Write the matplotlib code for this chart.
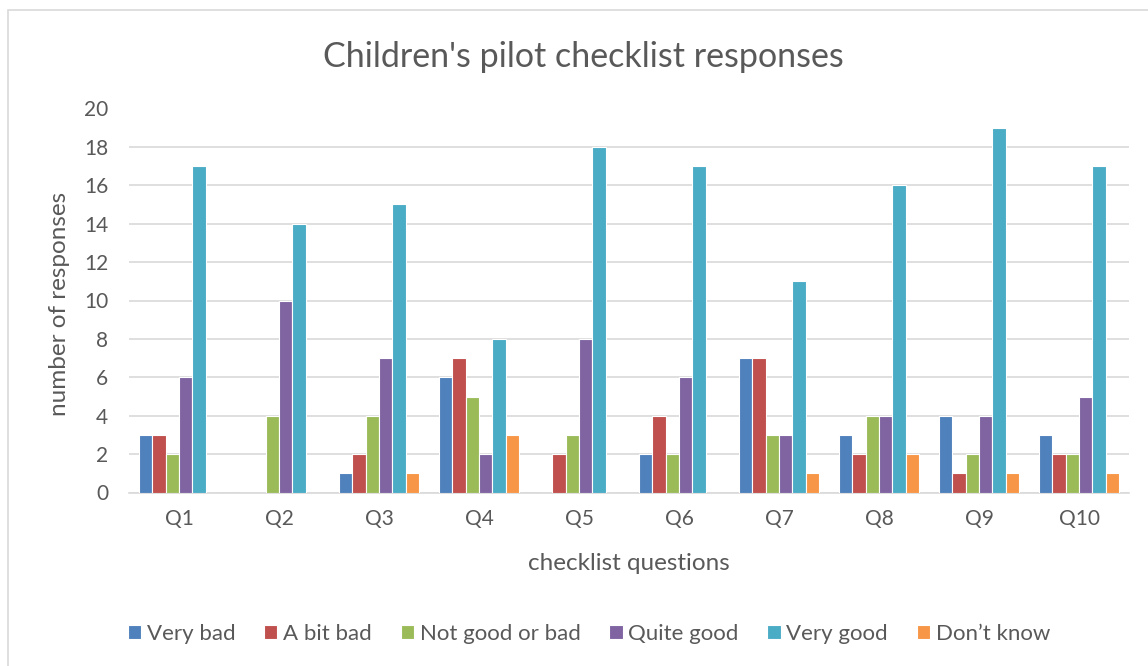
import numpy as np
import matplotlib
matplotlib.use('Agg')
import matplotlib.pyplot as plt
from matplotlib.patches import Rectangle

# 데이터
questions = ['Q1', 'Q2', 'Q3', 'Q4', 'Q5', 'Q6', 'Q7', 'Q8', 'Q9', 'Q10']
series_names = ['Very bad', 'A bit bad', 'Not good or bad', 'Quite good', 'Very good', 'Don\u2019t know']
very_bad = [3, 0, 1, 6, 0, 2, 7, 3, 4, 3]
a_bit_bad = [3, 0, 2, 7, 2, 4, 7, 2, 1, 2]
not_good_or_bad = [2, 4, 4, 5, 3, 2, 3, 4, 2, 2]
quite_good = [6, 10, 7, 2, 8, 6, 3, 4, 4, 5]
very_good = [17, 14, 15, 8, 18, 17, 11, 16, 19, 17]
dont_know = [0, 0, 1, 3, 0, 0, 1, 2, 1, 1]
y_ticks = [0, 2, 4, 6, 8, 10, 12, 14, 16, 18, 20]

colors = ['#4F81BD', '#C0504D', '#9BBB59', '#8064A2', '#4BACC6', '#F79646']
text_color = '#595959'

plt.rcParams['font.family'] = ['Lato', 'DejaVu Sans']

fig = plt.figure(figsize=(11.48, 6.66), dpi=100)
# 차트 테두리 (왼쪽/위쪽만 보임)
fig.patches.append(Rectangle((8 / 1148, -0.1), 1.2, (666 - 10) / 666 + 0.1,
                             transform=fig.transFigure, fill=False,
                             edgecolor='#D9D9D9', linewidth=1.2))

ax = fig.add_axes([129 / 1148, (666 - 492.5) / 666, 1000 / 1148, 384 / 666])

x = np.arange(len(questions))
all_series = [very_bad, a_bit_bad, not_good_or_bad, quite_good, very_good, dont_know]
slot = 0.133
for i, (name, vals) in enumerate(zip(series_names, all_series)):
    offs = (i - 2.5) * slot
    ax.bar(x + offs, vals, width=slot, color=colors[i], edgecolor='white',
           linewidth=0.8, label=name, zorder=3)

ax.set_xlim(-0.5, len(questions) - 0.5)
ax.set_ylim(0, 20)
ax.set_yticks(y_ticks)
ax.set_xticks(x)
ax.set_xticklabels(questions)
ax.grid(axis='y', color='#D9D9D9', linewidth=1.2, zorder=0)
for s in ['top', 'right', 'left']:
    ax.spines[s].set_visible(False)
ax.spines['bottom'].set_color('#D9D9D9')
ax.spines['bottom'].set_linewidth(1.2)
ax.tick_params(axis='both', length=0, labelsize=15, colors=text_color)
ax.tick_params(axis='y', pad=15)
ax.tick_params(axis='x', pad=12)

fig.text(583 / 1148, 1 - 57 / 666, "Children's pilot checklist responses",
         fontsize=24.5, color=text_color, ha='center', va='center')
ax.set_xlabel('checklist questions', fontsize=17.5, color=text_color)
ax.set_ylabel('number of responses', fontsize=17.5, color=text_color)
# 축 제목 위치 (픽셀 기준으로 맞춤)
ax.xaxis.set_label_coords(0.5, (492.5 - 563) / 384)
ax.xaxis.label.set_va('center')
ax.yaxis.set_label_coords(-0.069, 0.49)
ax.yaxis.label.set_va('center')

fig.legend(loc='center', bbox_to_anchor=(0.513, 0.048), ncol=6, frameon=False,
           fontsize=16, labelcolor=text_color, handlelength=0.6, handleheight=0.6,
           handletextpad=0.25, columnspacing=1.3)

fig.savefig('out.png', dpi=100)
